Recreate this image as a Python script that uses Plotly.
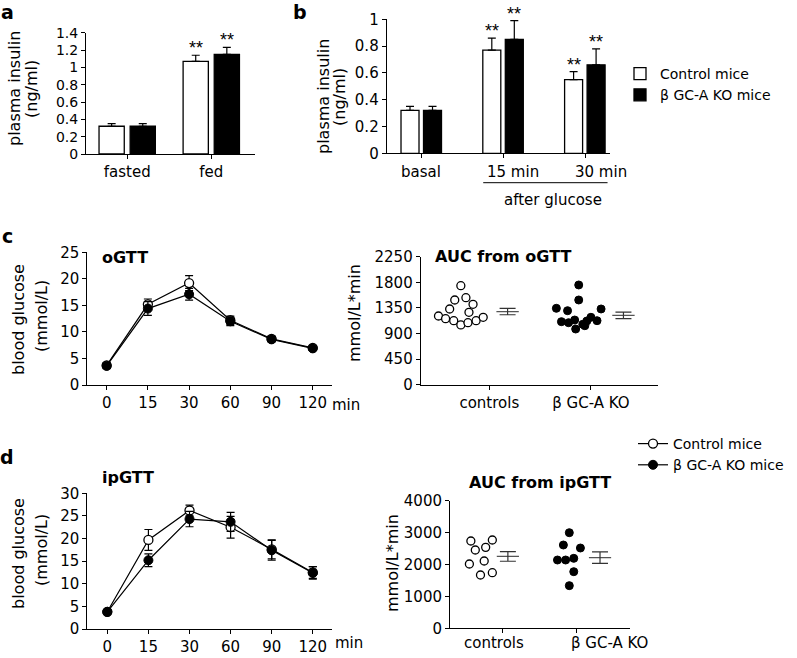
import numpy as np
import plotly.graph_objects as go

W, H = 797, 658
FONT = "DejaVu Sans, Liberation Sans, Arial, sans-serif"
STAR_FONT = "Liberation Sans, Arial, sans-serif"

# ---------------- data ----------------
# Panel a: plasma insulin, fasted / fed
a_groups = ["fasted", "fed"]
a_ctrl = [0.32, 1.07]
a_ctrl_err = [0.03, 0.07]
a_ko = [0.32, 1.15]
a_ko_err = [0.03, 0.08]
a_sig_ctrl = ["", "**"]
a_sig_ko = ["", "**"]

# Panel b: plasma insulin after glucose
b_groups = ["basal", "15 min", "30 min"]
b_ctrl = [0.32, 0.77, 0.55]
b_ctrl_err = [0.03, 0.09, 0.06]
b_ko = [0.32, 0.85, 0.66]
b_ko_err = [0.03, 0.14, 0.12]
b_sig_ctrl = ["", "**", "**"]
b_sig_ko = ["", "**", "**"]

# Panels c/d: glucose tolerance tests
times = ["0", "15", "30", "60", "90", "120"]
ogtt_ctrl = [3.7, 15.2, 19.2, 12.2, 8.7, 7.0]
ogtt_ctrl_err = [0.5, 1.0, 1.4, 0.8, 0.5, 0.4]
ogtt_ko = [3.6, 14.4, 17.1, 12.0, 8.6, 6.9]
ogtt_ko_err = [0.5, 1.3, 1.1, 0.8, 0.5, 0.4]

ipgtt_ctrl = [3.8, 19.7, 26.2, 22.5, 17.6, 12.5]
ipgtt_ctrl_err = [0.4, 2.3, 1.2, 2.4, 2.1, 1.3]
ipgtt_ko = [3.8, 15.2, 24.3, 23.7, 17.4, 12.4]
ipgtt_ko_err = [0.4, 1.4, 1.7, 2.1, 2.2, 1.4]

# AUC scatter (individual mice)
auc_groups = ["controls", "\u03b2 GC-A KO"]
auc_o_ctrl = [1740, 1489, 1529, 1413, 1331, 1273, 1208, 1160, 1125, 1050, 1090, 1125, 1185]
auc_o_ctrl_jit = [-0.28, -0.34, -0.23, -0.16, -0.39, -0.20, -0.50, -0.43, -0.35, -0.28, -0.21, -0.13, -0.06]
auc_o_ko = [1753, 1489, 1343, 1301, 1331, 1108, 1090, 1137, 979, 1062, 1120, 1185, 1125, 1037]
auc_o_ko_jit = [-0.12, -0.12, -0.34, -0.23, 0.10, -0.29, -0.22, -0.16, -0.15, -0.08, -0.04, 0.00, 0.06, -0.06]

auc_i_ctrl = [2736, 2454, 2538, 2768, 2016, 2110, 1671, 1744]
auc_i_ctrl_jit = [-0.43, -0.37, -0.23, -0.14, -0.45, -0.25, -0.30, -0.14]
auc_i_ko = [2997, 2611, 2517, 2141, 2141, 2193, 1775, 1337]
auc_i_ko_jit = [-0.10, -0.18, 0.05, -0.26, -0.15, -0.04, -0.04, -0.10]

CTRL_NAME = "Control mice"
KO_NAME = "\u03b2 GC-A KO mice"

# ---------------- helpers ----------------
def px_x(p):
    return p / W


def px_y(p):
    return 1 - p / H


def mean_sem(v):
    v = np.asarray(v, dtype=float)
    return v.mean(), v.std(ddof=1) / np.sqrt(len(v))


TICK_SIZE = 15
TITLE_SIZE = 16

fig = go.Figure()

# ---------------- panel a bars ----------------
BW_A = 0.30
xa = list(range(len(a_groups)))
fig.add_trace(go.Bar(x=xa, y=a_ctrl, width=BW_A, offset=-0.335, name=CTRL_NAME,
                     marker=dict(color="white", line=dict(color="black", width=1.3)),
                     error_y=dict(type="data", array=a_ctrl_err, arrayminus=[0] * len(xa), symmetric=False,
                                  color="black", thickness=1.2, width=4),
                     xaxis="x", yaxis="y", legend="legend", showlegend=True))
fig.add_trace(go.Bar(x=xa, y=a_ko, width=BW_A, offset=0.035, name=KO_NAME,
                     marker=dict(color="black", line=dict(color="black", width=1.3)),
                     error_y=dict(type="data", array=a_ko_err, arrayminus=[0] * len(xa), symmetric=False,
                                  color="black", thickness=1.2, width=4),
                     xaxis="x", yaxis="y", legend="legend", showlegend=True))

# ---------------- panel b bars ----------------
BW_B = 0.22
xb = list(range(len(b_groups)))
fig.add_trace(go.Bar(x=xb, y=b_ctrl, width=BW_B, offset=-0.255, name=CTRL_NAME,
                     marker=dict(color="white", line=dict(color="black", width=1.3)),
                     error_y=dict(type="data", array=b_ctrl_err, arrayminus=[0] * len(xb), symmetric=False,
                                  color="black", thickness=1.2, width=4),
                     xaxis="x2", yaxis="y2", showlegend=False))
fig.add_trace(go.Bar(x=xb, y=b_ko, width=BW_B, offset=0.02, name=KO_NAME,
                     marker=dict(color="black", line=dict(color="black", width=1.3)),
                     error_y=dict(type="data", array=b_ko_err, arrayminus=[0] * len(xb), symmetric=False,
                                  color="black", thickness=1.2, width=4),
                     xaxis="x2", yaxis="y2", showlegend=False))

annotations = []


def stars(xs, vals, errs, labels, xref, yref):
    for x, v, e, t in zip(xs, vals, errs, labels):
        if t:
            annotations.append(dict(x=x, y=v + e, xref=xref, yref=yref, text=t, showarrow=False,
                                    yanchor="bottom", xanchor="center", yshift=-5,
                                    font=dict(family=STAR_FONT, size=18, color="#000000")))


stars([x - 0.335 + BW_A / 2 for x in xa], a_ctrl, a_ctrl_err, a_sig_ctrl, "x", "y")
stars([x + 0.035 + BW_A / 2 for x in xa], a_ko, a_ko_err, a_sig_ko, "x", "y")
stars([x - 0.255 + BW_B / 2 for x in xb], b_ctrl, b_ctrl_err, b_sig_ctrl, "x2", "y2")
stars([x + 0.02 + BW_B / 2 for x in xb], b_ko, b_ko_err, b_sig_ko, "x2", "y2")

# ---------------- line panels ----------------
def gtt(ctrl, ce, ko, ke, xa_, ya_, legend_on):
    xt = list(range(len(times)))
    fig.add_trace(go.Scatter(x=xt, y=ctrl, mode="lines+markers", name=CTRL_NAME,
                             line=dict(color="black", width=1.2),
                             marker=dict(symbol="circle", size=9, color="white",
                                         line=dict(color="black", width=1.3)),
                             error_y=dict(type="data", array=ce, color="black", thickness=1.2, width=4),
                             xaxis=xa_, yaxis=ya_, cliponaxis=False,
                             legend="legend2", showlegend=legend_on))
    fig.add_trace(go.Scatter(x=xt, y=ko, mode="lines+markers", name=KO_NAME,
                             line=dict(color="black", width=1.2),
                             marker=dict(symbol="circle", size=9, color="black",
                                         line=dict(color="black", width=1)),
                             error_y=dict(type="data", array=ke, color="black", thickness=1.2, width=4),
                             xaxis=xa_, yaxis=ya_, cliponaxis=False,
                             legend="legend2", showlegend=legend_on))


gtt(ogtt_ctrl, ogtt_ctrl_err, ogtt_ko, ogtt_ko_err, "x3", "y3", False)
gtt(ipgtt_ctrl, ipgtt_ctrl_err, ipgtt_ko, ipgtt_ko_err, "x5", "y5", True)

# ---------------- AUC scatter panels ----------------
def auc(ctrl, cj, ko, kj, xa_, ya_, centers, hw):
    fig.add_trace(go.Scatter(x=[0 + j for j in cj], y=ctrl, mode="markers",
                             marker=dict(size=8, color="white", line=dict(color="black", width=1.3)),
                             xaxis=xa_, yaxis=ya_, showlegend=False, cliponaxis=False))
    fig.add_trace(go.Scatter(x=[1 + j for j in kj], y=ko, mode="markers",
                             marker=dict(size=8, color="black", line=dict(color="black", width=1)),
                             xaxis=xa_, yaxis=ya_, showlegend=False, cliponaxis=False))
    for g, vals in enumerate([ctrl, ko]):
        m, s = mean_sem(vals)
        c = g + centers[g]
        fig.add_trace(go.Scatter(x=[c - hw, c + hw], y=[m, m], mode="lines",
                                 line=dict(color="#555555", width=1.3),
                                 xaxis=xa_, yaxis=ya_, showlegend=False, hoverinfo="skip"))
        fig.add_trace(go.Scatter(x=[c], y=[m], mode="markers", marker=dict(size=1, color="rgba(0,0,0,0)"),
                                 error_y=dict(type="data", array=[s], color="#333333", thickness=1.2, width=8),
                                 xaxis=xa_, yaxis=ya_, showlegend=False))


auc(auc_o_ctrl, auc_o_ctrl_jit, auc_o_ko, auc_o_ko_jit, "x4", "y4", [0.18, 0.32], 0.11)
auc(auc_i_ctrl, auc_i_ctrl_jit, auc_i_ko, auc_i_ko_jit, "x6", "y6", [0.07, 0.315], 0.15)

# ---------------- axes ----------------
tickfont = dict(family=FONT, size=TICK_SIZE, color="black")
common = dict(showline=True, linecolor="black", linewidth=1, ticks="outside", ticklen=4,
              tickwidth=1, tickcolor="black", showgrid=False, zeroline=False, tickfont=tickfont,
              fixedrange=True, automargin=False, tickangle=0)

layout_axes = dict(
    xaxis=dict(domain=[px_x(86), px_x(255)], range=[-0.49, 1.52], tickvals=xa, ticktext=a_groups,
               anchor="y", **common),
    yaxis=dict(domain=[px_y(154), px_y(32.7)], range=[0, 1.4], dtick=0.2, anchor="x",
               **{**common, "tickfont": dict(family=FONT, size=14, color="black")}),
    xaxis2=dict(domain=[px_x(386.7), px_x(610)], range=[-0.43, 2.30], tickvals=xb,
                showticklabels=False, anchor="y2", **common),
    yaxis2=dict(domain=[px_y(153.3), px_y(19.3)], range=[0, 1.0], dtick=0.2, anchor="x2", **common),
    xaxis3=dict(domain=[px_x(87.3), px_x(331.7)], range=[-0.47, 5.46], tickvals=list(range(6)),
                ticktext=times, anchor="y3", **common),
    yaxis3=dict(domain=[px_y(385), px_y(252.3)], range=[0, 25], dtick=5, anchor="x3", **common),
    xaxis4=dict(domain=[px_x(420.7), px_x(658)], range=[-0.675, 1.66], tickvals=[0, 1],
                ticktext=auc_groups, anchor="y4", **common),
    yaxis4=dict(domain=[px_y(384.7), px_y(256.7)], range=[0, 2250], dtick=450, anchor="x4", **common),
    xaxis5=dict(domain=[px_x(87.3), px_x(331.7)], range=[-0.487, 5.46], tickvals=list(range(6)),
                ticktext=times, anchor="y5", **common),
    yaxis5=dict(domain=[px_y(629), px_y(493.3)], range=[0, 30], dtick=5, anchor="x5", **common),
    xaxis6=dict(domain=[px_x(450), px_x(630)], range=[-0.712, 1.72], tickvals=[0, 1],
                showticklabels=False, anchor="y6", **common),
    yaxis6=dict(domain=[px_y(628.3), px_y(500.7)], range=[0, 4000], dtick=1000, anchor="x6", **common),
)


def text(x, y, t, size=TITLE_SIZE, bold=False, angle=0, xanchor="center"):
    annotations.append(dict(x=px_x(x), y=px_y(y), xref="paper", yref="paper",
                            text=f"<b>{t}</b>" if bold else t, showarrow=False, textangle=angle,
                            xanchor=xanchor, yanchor="middle",
                            font=dict(family=FONT, size=size, color="black")))


# panel letters
text(7, 12, "a", 19, True)
text(300, 12, "b", 19, True)
text(7, 236, "c", 19, True)
text(7, 457, "d", 19, True)

# y-axis titles
text(15, 89, "plasma insulin", angle=-90)
text(32, 89, "(ng/ml)", angle=-90)
text(323, 97, "plasma insulin", angle=-90)
text(339, 97, "(ng/ml)", angle=-90)
text(18, 320, "blood glucose", angle=-90)
text(41, 316, "(mmol/L)", angle=-90)
text(18, 554, "blood glucose", angle=-90)
text(41, 550, "(mmol/L)", angle=-90)
text(354, 313, "mmol/L*min", angle=-90)
text(392, 563, "mmol/L*min", angle=-90)

# panel titles
text(100, 257, "oGTT", 16, True, xanchor="left")
text(100, 477, "ipGTT", 16, True, xanchor="left")
text(433, 256, "AUC from oGTT", 16, True, xanchor="left")
text(540, 482, "AUC from ipGTT", 16, True)

# 'min' unit after last time tick
text(330, 405, "min", TICK_SIZE, xanchor="left")
text(333, 643, "min", TICK_SIZE, xanchor="left")

# group labels of panel b (offset from the ticks as in the original)
for lbl, cx in zip(b_groups, [421, 513, 601]):
    text(cx, 171.5, lbl, TICK_SIZE)

# group labels of the ipGTT AUC panel (offset from the ticks as in the original)
text(494, 643, auc_groups[0], TICK_SIZE)
text(609, 643, auc_groups[1], TICK_SIZE)

# after glucose
text(553, 200, "after glucose", TICK_SIZE)

shapes = [dict(type="line", xref="x2", yref="paper", x0=0.75, x1=2.27,
               y0=px_y(182.7), y1=px_y(182.7), line=dict(color="black", width=1))]

fig.update_layout(
    width=W, height=H, margin=dict(l=0, r=0, t=0, b=0, autoexpand=False),
    paper_bgcolor="white", plot_bgcolor="white",
    barmode="overlay", showlegend=True,
    font=dict(family=FONT, size=15, color="black"),
    annotations=annotations, shapes=shapes,
    legend=dict(x=px_x(620), y=px_y(58), xanchor="left", yanchor="top", bgcolor="rgba(0,0,0,0)",
                font=dict(family=FONT, size=14, color="black"), tracegroupgap=0, itemclick=False),
    legend2=dict(x=px_x(633), y=px_y(428), xanchor="left", yanchor="top", bgcolor="rgba(0,0,0,0)",
                 font=dict(family=FONT, size=14, color="black"), tracegroupgap=0, itemclick=False),
    **layout_axes,
)

fig.write_html("out.html", config={"displayModeBar": False},
               post_script="document.body.style.margin='0px';document.body.style.overflow='hidden';")
